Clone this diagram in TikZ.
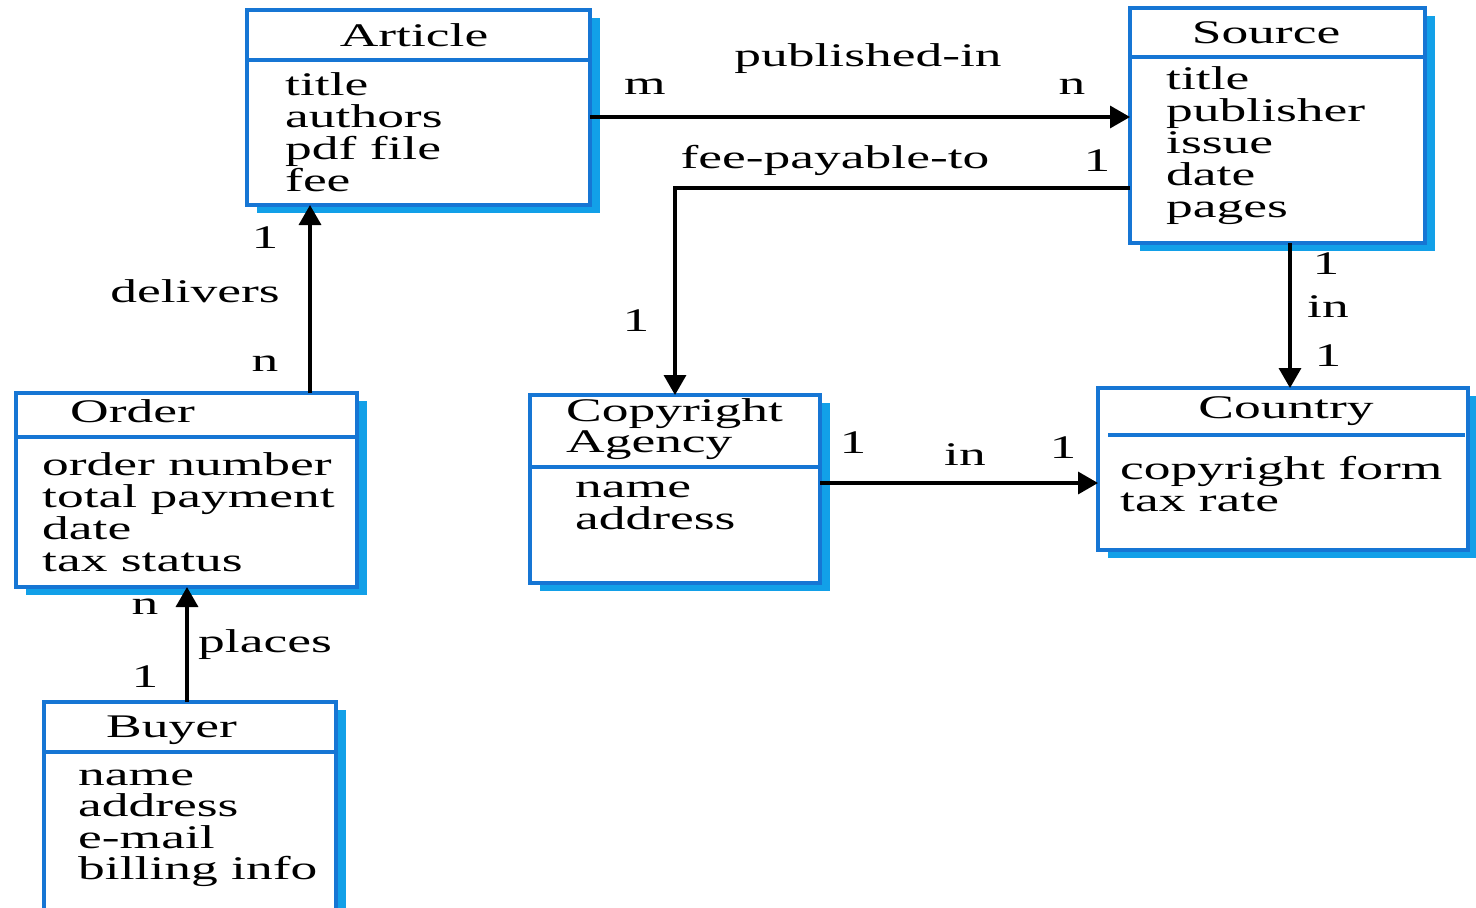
\documentclass[tikz,border=0pt]{standalone}
\usepackage{fontspec}
\setmainfont{Liberation Serif}[FakeStretch=1.62]
\usetikzlibrary{arrows.meta,shadows}
\definecolor{boxblue}{RGB}{22,118,212}
\definecolor{shadowblue}{RGB}{18,160,232}
\begin{document}
\begin{tikzpicture}[x=1pt,y=-1pt,
  box/.style={draw=boxblue, line width=4pt, fill=white, inner sep=0pt, outer sep=0pt,
    copy shadow={shadow xshift=10pt, shadow yshift=-8pt, fill=shadowblue, draw=none}},
  hdr/.style={draw=boxblue, line width=3.5pt},
  txt/.style={inner sep=0pt, font=\fontsize{33}{32}\selectfont},
  attr/.style={txt, anchor=base west},
  title/.style={txt, anchor=base},
  lbl/.style={txt, anchor=base},
  conn/.style={draw=black, line width=3.5pt, -{Triangle[length=20pt,width=22pt]}}]
\useasboundingbox (0,0) rectangle (1476,908);
\fill[white] (0,0) rectangle (1476,908);

% entity boxes
\node[box, minimum width=343pt, minimum height=195pt] (art) at (418.5,107.5) {};
\node[box, minimum width=295pt, minimum height=235pt] (src) at (1277.5,125.5) {};
\node[box, minimum width=341pt, minimum height=194pt] (ord) at (186.5,490) {};
\node[box, minimum width=290pt, minimum height=188pt] (cpa) at (675,489) {};
\node[box, minimum width=370pt, minimum height=162pt] (cty) at (1283,469) {};
\node[box, minimum width=292pt, minimum height=213pt] (buy) at (190,808.5) {};

% header separators
\draw[hdr] (art.west |- 0,60) -- (art.east |- 0,60);
\draw[hdr] (src.west |- 0,57) -- (src.east |- 0,57);
\draw[hdr] (ord.west |- 0,437) -- (ord.east |- 0,437);
\draw[hdr] (cpa.west |- 0,467) -- (cpa.east |- 0,467);
\draw[hdr] (1108,435) -- (1465,435);
\draw[hdr] (buy.west |- 0,752) -- (buy.east |- 0,752);

% entity names
\node[title] (art-t) at (414,46) {Article};
\node[title] (src-t) at (1266,43) {Source};
\node[attr] (ord-t) at (70,422) {Order};
\node[attr] (cpa-t1) at (566,421) {Copyright};
\node[attr] (cpa-t2) at (566,452) {Agency};
\node[title] (cty-t) at (1286,418) {Country};
\node[attr] (buy-t) at (106,737) {Buyer};

% attributes
\foreach \t [count=\i from 0] in {title,authors,pdf file,fee}
  \node[attr] (art-a\i) at (285,95+32*\i) {\t};
\foreach \t [count=\i from 0] in {title,publisher,issue,date,pages}
  \node[attr] (src-a\i) at (1166,89+32*\i) {\t};
\foreach \t [count=\i from 0] in {order number,total payment,date,tax status}
  \node[attr] (ord-a\i) at (42,475+32*\i) {\t};
\foreach \t [count=\i from 0] in {name,address}
  \node[attr] (cpa-a\i) at (575,497+32*\i) {\t};
\foreach \t [count=\i from 0] in {copyright form,tax rate}
  \node[attr] (cty-a\i) at (1120,479+32*\i) {\t};
\foreach \t [count=\i from 0] in {name,address,e-mail,billing info}
  \node[attr] (buy-a\i) at (78,785+31.5*\i) {\t};

% relationships
\draw[conn] (art.east |- 0,117) -- (src.west |- 0,117);
\draw[conn] (src.west |- 0,188) -| (cpa.north);
\draw[conn] (ord.north -| 310,0) -- (art.south -| 310,0);
\draw[conn] (src.south -| 1290,0) -- (cty.north -| 1290,0);
\draw[conn] (cpa.east |- 0,483) -- (cty.west |- 0,483);
\draw[conn] (buy.north -| 187,0) -- (ord.south -| 187,0);

% relationship names and cardinalities
\node[lbl] (l1) at (645,94) {m};
\node[lbl] (l2) at (868,66) {published-in};
\node[lbl] (l3) at (1072,94) {n};
\node[lbl] (l4) at (835,168) {fee-payable-to};
\node[lbl] (l5) at (1097,171) {1};
\node[lbl] (l6) at (636,331) {1};
\node[lbl] (l7) at (265,248) {1};
\node[lbl] (l8) at (195,302) {delivers};
\node[lbl] (l9) at (265,371) {n};
\node[lbl] (l10) at (1326,274) {1};
\node[lbl] (l11) at (1328,317) {in};
\node[lbl] (l12) at (1328,366) {1};
\node[lbl] (l13) at (853,453) {1};
\node[lbl] (l14) at (965,465) {in};
\node[lbl] (l15) at (1063,458) {1};
\node[lbl] (l16) at (145,614) {n};
\node[lbl] (l17) at (265,652) {places};
\node[lbl] (l18) at (145,687) {1};
\end{tikzpicture}
\end{document}
